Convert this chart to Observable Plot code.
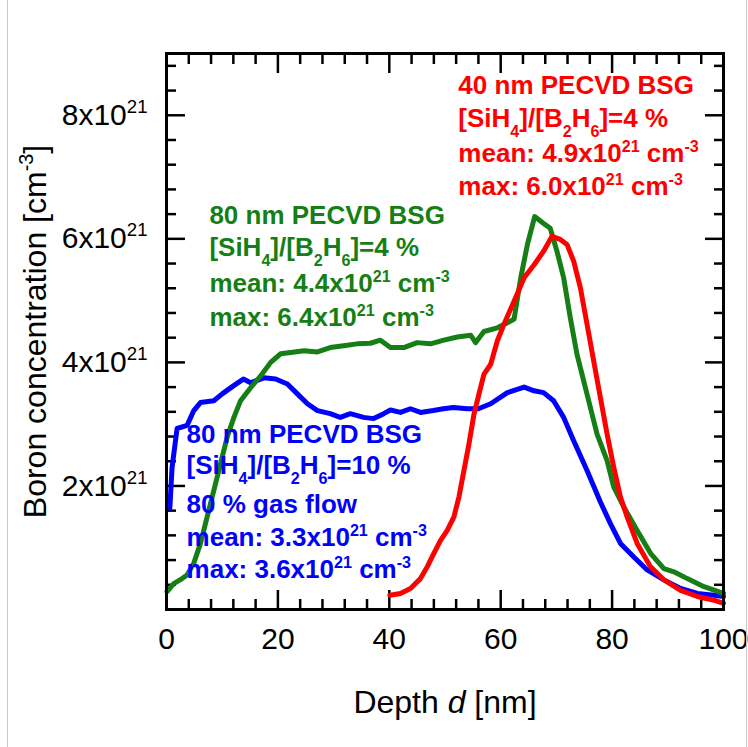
<!DOCTYPE html>
<html>
<head>
<meta charset="utf-8">
<script src="https://cdn.jsdelivr.net/npm/d3@7"></script>
<script src="https://cdn.jsdelivr.net/npm/@observablehq/plot@0.6"></script>
<style>
html, body { margin: 0; padding: 0; background: #fff; }
#wrap { position: relative; width: 748px; height: 747px; overflow: hidden; }
#wrap svg { display: block; }
.edge { position: absolute; top: 0; bottom: 0; width: 1px; background: #c8c8c8; }
</style>
</head>
<body>
<div id="wrap"></div>
<script>
// ---- Data (concentration in units of 10^21 cm^-3, depth in nm) ----
const blueDepth = [0.6,1.0,1.9,3.7,4.9,6.1,8.5,10.0,12.0,13.8,15.1,17.5,19.6,21.7,23.5,25.3,27.1,29.4,31.2,33.0,35.4,37.2,39.0,40.2,42.0,43.8,45.6,47.9,49.7,51.5,54.0,56.0,58.2,61.2,64.2,66.0,67.7,69.5,71.3,73.1,75.5,77.9,79.7,81.5,83.9,86.3,89.3,92.3,95.3,98.3,100];
const blueConc  = [1.64,2.30,2.93,2.98,3.22,3.35,3.38,3.49,3.62,3.73,3.67,3.75,3.73,3.65,3.49,3.33,3.22,3.17,3.11,3.17,3.11,3.09,3.17,3.23,3.19,3.25,3.19,3.22,3.25,3.27,3.25,3.25,3.33,3.51,3.60,3.54,3.51,3.38,3.11,2.73,2.25,1.74,1.39,1.07,0.85,0.64,0.48,0.34,0.26,0.23,0.21];

const greenDepth = [0.1,1.3,2.8,3.7,4.9,6.1,7.3,8.5,9.7,10.9,12.1,13.3,15.1,16.9,18.7,20.5,22.3,24.7,27.1,29.4,31.8,34.2,36.6,38.4,40.2,42.6,45.0,47.4,49.8,52.2,54.6,55.5,57.0,59.4,61.8,62.4,63.6,64.8,66.1,67.7,68.9,70.1,71.3,72.5,73.7,74.9,76.1,77.3,79.1,80.3,82.1,84.5,86.9,89.3,91.1,93.5,96.5,100];
const greenConc  = [0.29,0.42,0.50,0.56,0.75,1.07,1.50,1.93,2.36,2.79,3.11,3.38,3.59,3.78,4.00,4.14,4.16,4.19,4.17,4.24,4.27,4.30,4.31,4.36,4.24,4.24,4.32,4.30,4.36,4.41,4.44,4.32,4.50,4.56,4.67,4.70,5.37,5.91,6.36,6.25,6.17,5.80,5.37,4.72,4.13,3.70,3.27,2.84,2.41,1.98,1.66,1.28,0.91,0.66,0.61,0.50,0.37,0.26];

const redDepth = [40.1,42.0,43.8,45.6,46.8,48.0,49.2,50.4,51.6,52.5,53.4,54.3,55.2,56.1,57.0,58.2,59.4,60.6,62.4,64.2,66.0,67.7,69.2,70.7,71.9,73.1,74.3,75.5,76.7,77.9,79.1,80.3,81.5,82.7,84.5,86.9,89.3,92.3,95.3,98.3,100];
const redConc  = [0.23,0.26,0.34,0.50,0.69,0.91,1.12,1.28,1.50,1.82,2.25,2.68,3.16,3.49,3.81,3.97,4.35,4.62,4.99,5.37,5.58,5.80,6.04,5.99,5.91,5.64,5.21,4.62,4.02,3.43,2.84,2.30,1.82,1.50,1.07,0.69,0.48,0.31,0.21,0.15,0.10];

// Tick values
const xMajorTicks = [0,20,40,60,80,100];
const xMinorTicks = [4,8,12,16,24,28,32,36,44,48,52,56,64,68,72,76,84,88,92,96];
const yMajorTicks = [0,2,4,6,8];
const yMinorTicks = [0.4,0.8,1.2,1.6,2.4,2.8,3.2,3.6,4.4,4.8,5.2,5.6,6.4,6.8,7.2,7.6,8.4,8.8];
const yLabelTicks = [2,4,6,8];

// Text ({^..} superscript, {_..} subscript, {*..} italic)
const xTitle = "Depth {*d} [nm]";
const yTitle = "Boron concentration [cm{^-3}]";
const redLabel = ["40 nm PECVD BSG", "[SiH{_4}]/[B{_2}H{_6}]=4 %", "mean: 4.9x10{^21} cm{^-3}", "max: 6.0x10{^21} cm{^-3}"];
const greenLabel = ["80 nm PECVD BSG", "[SiH{_4}]/[B{_2}H{_6}]=4 %", "mean: 4.4x10{^21} cm{^-3}", "max: 6.4x10{^21} cm{^-3}"];
const blueLabel = ["80 nm PECVD BSG", "[SiH{_4}]/[B{_2}H{_6}]=10 %", "80 % gas flow", "mean: 3.3x10{^21} cm{^-3}", "max: 3.6x10{^21} cm{^-3}"];

// ---- Layout (anchor positions of annotation blocks, in data units) ----
const layout = {
  red:   {x: 52.4, y: [8.48, 7.94, 7.38, 6.85]},
  green: {x: 7.7,  y: [6.38, 5.85, 5.28, 4.72]},
  blue:  {x: 3.6,  y: [2.83, 2.33, 1.70, 1.17, 0.64]}
};
const colors = {blue: "#0000ff", green: "#157f15", red: "#ff0000"};

const zip = (xs, ys) => xs.map((x, i) => ({x, y: ys[i]}));
const block = (lines, pos) => lines.map((t, i) => ({x: pos.x, y: pos.y[i], t}));

const tickCommon = {tickFormat: () => "", label: null, strokeWidth: 2.5};
const annoStyle = {x: "x", y: "y", text: "t", textAnchor: "start", fontWeight: "bold", fontSize: 26};

const svg = Plot.plot({
  width: 748, height: 747,
  marginLeft: 166, marginRight: 25, marginTop: 53, marginBottom: 138,
  x: {domain: [0, 100]},
  y: {domain: [0, 9]},
  style: {fontFamily: "'Liberation Sans', Arial, sans-serif", background: "white", color: "black", overflow: "visible"},
  marks: [
    // inward ticks on all four sides
    Plot.axisX(xMajorTicks, {anchor: "bottom", tickSize: -19, ...tickCommon}),
    Plot.axisX(xMinorTicks, {anchor: "bottom", tickSize: -10, ...tickCommon}),
    Plot.axisX(xMajorTicks, {anchor: "top", tickSize: -19, ...tickCommon}),
    Plot.axisX(xMinorTicks, {anchor: "top", tickSize: -10, ...tickCommon}),
    Plot.axisY(yMajorTicks, {anchor: "left", tickSize: -19, ...tickCommon}),
    Plot.axisY(yMinorTicks, {anchor: "left", tickSize: -10, ...tickCommon}),
    Plot.axisY(yMajorTicks, {anchor: "right", tickSize: -19, ...tickCommon}),
    Plot.axisY(yMinorTicks, {anchor: "right", tickSize: -10, ...tickCommon}),
    // tick labels
    Plot.axisX(xMajorTicks, {anchor: "bottom", tickSize: 0, tickPadding: 18, fontSize: 30, label: null}),
    Plot.axisY(yLabelTicks, {anchor: "left", tickSize: 0, tickPadding: 19, fontSize: 30, label: null,
      tickFormat: d => `${d}x10{^21}`}),
    // data lines
    Plot.line(zip(blueDepth, blueConc), {x: "x", y: "y", stroke: colors.blue, strokeWidth: 5}),
    Plot.line(zip(greenDepth, greenConc), {x: "x", y: "y", stroke: colors.green, strokeWidth: 5}),
    Plot.line(zip(redDepth, redConc), {x: "x", y: "y", stroke: colors.red, strokeWidth: 5}),
    Plot.frame({stroke: "black", strokeWidth: 3}),
    // annotations
    Plot.text(block(redLabel, layout.red), {...annoStyle, fill: colors.red}),
    Plot.text(block(greenLabel, layout.green), {...annoStyle, fill: colors.green}),
    Plot.text(block(blueLabel, layout.blue), {...annoStyle, fill: colors.blue}),
    // axis titles
    Plot.text([xTitle], {frameAnchor: "bottom", textAnchor: "middle", dy: 103, fontSize: 32, fill: "black"}),
    Plot.text([yTitle], {frameAnchor: "left", textAnchor: "middle", dx: -131, rotate: -90, fontSize: 32, fill: "black"})
  ]
});

const wrap = document.getElementById("wrap");
wrap.appendChild(svg);
for (const left of [7, 746]) {
  const e = document.createElement("div");
  e.className = "edge";
  e.style.left = left + "px";
  wrap.appendChild(e);
}

// rich text: superscripts, subscripts, italics
const NS = "http://www.w3.org/2000/svg";
svg.querySelectorAll("text").forEach(t => {
  const s = t.textContent;
  if (!/\{[\^_*]/.test(s)) return;
  const fs = parseFloat(getComputedStyle(t).fontSize) || 20;
  while (t.firstChild) t.removeChild(t.firstChild);
  const add = (txt, kind) => {
    if (!txt) return;
    const sp = document.createElementNS(NS, "tspan");
    sp.textContent = txt;
    if (kind === "^") { sp.setAttribute("font-size", (fs * 0.62) + "px"); sp.setAttribute("baseline-shift", (fs * 0.4) + "px"); }
    else if (kind === "_") { sp.setAttribute("font-size", (fs * 0.62) + "px"); sp.setAttribute("baseline-shift", (-fs * 0.4) + "px"); }
    else if (kind === "*") { sp.setAttribute("font-style", "italic"); }
    t.appendChild(sp);
  };
  const re = /\{([\^_*])([^}]*)\}/g;
  let last = 0, m;
  while ((m = re.exec(s))) { add(s.slice(last, m.index)); add(m[2], m[1]); last = re.lastIndex; }
  add(s.slice(last));
});
</script>
</body>
</html>
